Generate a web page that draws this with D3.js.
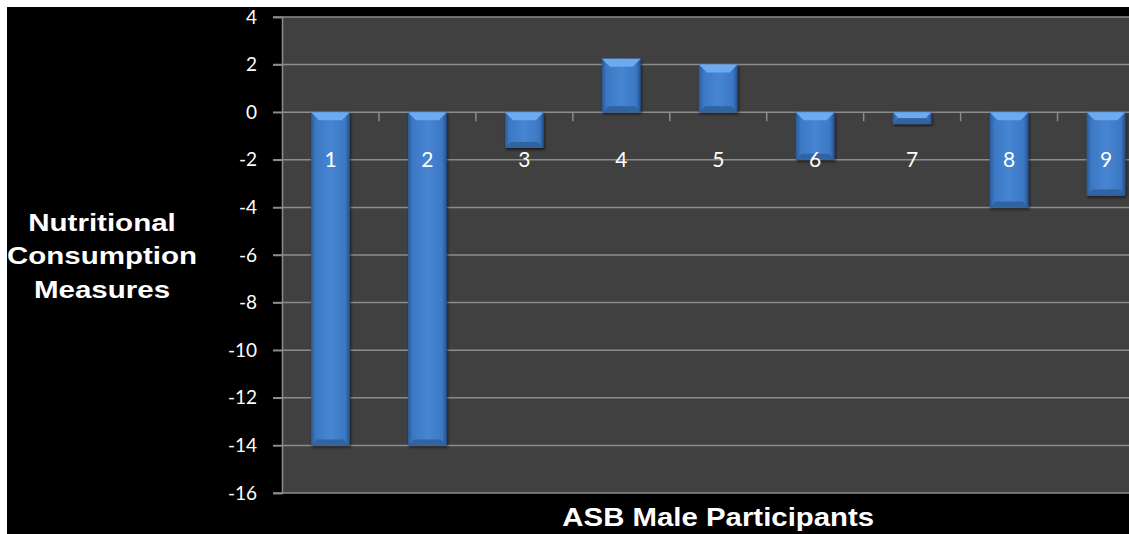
<!DOCTYPE html>
<html>
<head>
<meta charset="utf-8">
<script src="https://cdn.jsdelivr.net/npm/d3@7"></script>
<style>
	html, body { margin: 0; padding: 0; background: #fff; overflow: hidden; }
	svg { display: block; }
</style>
</head>
<body>
<svg id="chart" width="1129" height="534"></svg>
<script>
var participants = ["1", "2", "3", "4", "5", "6", "7", "8", "9"];
var measures = [-14, -14, -1.5, 2.25, 2, -2, -0.5, -4, -3.5];
var yTicks = [4, 2, 0, -2, -4, -6, -8, -10, -12, -14, -16];
var yTitleLines = ["Nutritional", "Consumption", "Measures"];
var xTitle = "ASB Male Participants";

var svg = d3.select("#chart");
var plotLeft = 282;
var plotRight = 1154.5; // chart is cut off at the right edge of the picture
var plotTop = 17;
var plotBottom = 493;

// Background
svg.append("rect")
	.attr("x", 7).attr("y", 7)
	.attr("width", 1122).attr("height", 527)
	.attr("fill", "#000");

var x = d3.scaleBand()
	.domain(participants)
	.range([plotLeft, plotRight])
	.paddingInner(0.6)
	.paddingOuter(0.3);

var y = d3.scaleLinear()
	.domain([-16, 4])
	.range([plotBottom, plotTop]);

// gradients
var defs = svg.append("defs");
var grad = defs.append("linearGradient").attr("id", "barGrad")
	.attr("x1", "0%").attr("x2", "100%").attr("y1", "0%").attr("y2", "0%");
grad.append("stop").attr("offset", "0%").attr("stop-color", "#2a5a98");
grad.append("stop").attr("offset", "12%").attr("stop-color", "#3c78c4");
grad.append("stop").attr("offset", "50%").attr("stop-color", "#4685d2");
grad.append("stop").attr("offset", "88%").attr("stop-color", "#3c78c4");
grad.append("stop").attr("offset", "100%").attr("stop-color", "#24508a");

var shadow = defs.append("filter").attr("id", "shadow")
	.attr("x", "-20%").attr("y", "-20%").attr("width", "140%").attr("height", "140%");
shadow.append("feDropShadow").attr("dx", 1).attr("dy", 2)
	.attr("stdDeviation", 1.5).attr("flood-color", "#000").attr("flood-opacity", 0.6);

// Plot area
svg.append("rect")
	.attr("x", plotLeft).attr("y", plotTop)
	.attr("width", plotRight - plotLeft).attr("height", plotBottom - plotTop)
	.attr("fill", "#404040");

// Grid lines
svg.append("g").selectAll("line.grid")
	.data(yTicks)
	.enter().append("line")
	.attr("x1", plotLeft - 9).attr("x2", plotRight)
	.attr("y1", function (d) { return y(d); })
	.attr("y2", function (d) { return y(d); })
	.attr("stroke", "#8c8c8c")
	.attr("stroke-width", 1.5);

// Y axis
var yAxis = svg.append("g")
	.attr("transform", "translate(" + plotLeft + ",0)")
	.call(d3.axisLeft(y).tickValues(yTicks).tickSize(9).tickPadding(16)
		.tickFormat(function (d) { return d; }));
yAxis.select(".domain").attr("stroke", "#8c8c8c").attr("stroke-width", 1.5);
yAxis.selectAll(".tick line").attr("stroke", "#8c8c8c").attr("stroke-width", 1.5);
yAxis.selectAll(".tick text")
	.attr("fill", "#fff")
	.style("font-family", "Lato, 'Open Sans', sans-serif")
	.style("font-size", "19px");

// Category axis ticks at the zero line (band boundaries)
var boundaries = participants.slice(1).map(function (d) {
	return x(d) - x.paddingInner() * x.bandwidth() / (1 - x.paddingInner()) / 2;
});
svg.append("g").selectAll("line.xtick")
	.data(boundaries)
	.enter().append("line")
	.attr("x1", function (d) { return d; })
	.attr("x2", function (d) { return d; })
	.attr("y1", y(0)).attr("y2", y(0) + 9)
	.attr("stroke", "#8c8c8c").attr("stroke-width", 1.5);

// Bars
var bars = svg.append("g").selectAll("g.bar")
	.data(measures)
	.enter().append("g")
	.attr("class", "bar");

bars.append("rect")
	.attr("x", function (d, i) { return x(participants[i]); })
	.attr("y", function (d) { return y(Math.max(0, d)); })
	.attr("width", x.bandwidth())
	.attr("height", function (d) { return Math.abs(y(d) - y(0)); })
	.attr("fill", "url(#barGrad)")
	.attr("filter", "url(#shadow)");

// top bevel
bars.append("path")
	.attr("d", function (d, i) {
		var x0 = x(participants[i]), x1 = x0 + x.bandwidth();
		var top = y(Math.max(0, d)), h = Math.abs(y(d) - y(0));
		var b = Math.min(8, h / 2);
		return "M" + x0 + "," + top + "L" + x1 + "," + top +
			"L" + (x1 - b) + "," + (top + b) + "L" + (x0 + b) + "," + (top + b) + "Z";
	})
	.attr("fill", "#6eaaf0");

// bottom bevel
bars.append("path")
	.attr("d", function (d, i) {
		var x0 = x(participants[i]), x1 = x0 + x.bandwidth();
		var bot = y(Math.min(0, d)), h = Math.abs(y(d) - y(0));
		var b = Math.min(6, h / 2);
		return "M" + x0 + "," + bot + "L" + x1 + "," + bot +
			"L" + (x1 - b) + "," + (bot - b) + "L" + (x0 + b) + "," + (bot - b) + "Z";
	})
	.attr("fill", "#30639f");

// Category labels
svg.append("g").selectAll("text.cat")
	.data(participants)
	.enter().append("text")
	.attr("x", function (d) { return x(d) + x.bandwidth() / 2; })
	.attr("y", y(-2) + 7)
	.attr("text-anchor", "middle")
	.attr("fill", "#fff")
	.style("font-family", "Lato, 'Open Sans', sans-serif")
	.style("font-size", "21px")
	.text(function (d) { return d; });

// Y title (stretched horizontally like the original)
svg.append("g")
	.attr("transform", "translate(102,231) scale(1.23,1)")
	.append("text")
	.attr("text-anchor", "middle")
	.attr("fill", "#fff")
	.style("font-family", "'Liberation Sans', Arial, sans-serif")
	.style("font-weight", "bold")
	.style("font-size", "24px")
	.selectAll("tspan")
	.data(yTitleLines)
	.enter().append("tspan")
	.attr("x", 0)
	.attr("dy", function (d, i) { return i ? 33.5 : 0; })
	.text(function (d) { return d; });

// X title
svg.append("g")
	.attr("transform", "translate(" + (plotLeft + plotRight) / 2 + ",526) scale(1.13,1)")
	.append("text")
	.attr("text-anchor", "middle")
	.attr("fill", "#fff")
	.style("font-family", "'Liberation Sans', Arial, sans-serif")
	.style("font-weight", "bold")
	.style("font-size", "26px")
	.text(xTitle);
</script>
</body>
</html>
